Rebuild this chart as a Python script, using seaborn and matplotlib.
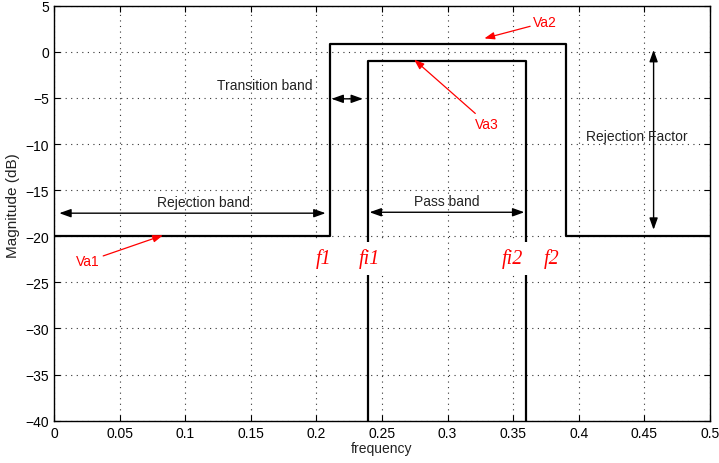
import matplotlib
matplotlib.use("Agg")
import matplotlib.pyplot as plt
import seaborn as sns
import pandas as pd

# Filter templates (step responses)
outer_freq = [0.0, 0.21, 0.21, 0.39, 0.39, 0.5]
outer_mag = [-20, -20, 0.8, 0.8, -20, -20]
inner_freq = [0.239, 0.239, 0.36, 0.36]
inner_mag = [-40, -1, -1, -40]

xticks = [0, 0.05, 0.1, 0.15, 0.2, 0.25, 0.3, 0.35, 0.4, 0.45, 0.5]
xticklabels = ["0", "0.05", "0.1", "0.15", "0.2", "0.25", "0.3", "0.35", "0.4", "0.45", "0.5"]
yticks = [5, 0, -5, -10, -15, -20, -25, -30, -35, -40]

sns.set_style("ticks")
plt.rcParams['font.family'] = ['Liberation Sans', 'DejaVu Sans']
plt.rcParams['axes.unicode_minus'] = True

fig = plt.figure(figsize=(7.19, 4.64), dpi=100)
ax = fig.add_axes([0.0751, 0.0912, 0.9124, 0.8944])

df_outer = pd.DataFrame({"frequency": outer_freq, "mag": outer_mag})
df_inner = pd.DataFrame({"frequency": inner_freq, "mag": inner_mag})
sns.lineplot(data=df_outer, x="frequency", y="mag", sort=False, estimator=None, color="black", lw=1.6, ax=ax)
sns.lineplot(data=df_inner, x="frequency", y="mag", sort=False, estimator=None, color="black", lw=1.6, ax=ax)

ax.set_xlim(0, 0.5)
ax.set_ylim(-40, 5)
ax.set_xticks(xticks)
ax.set_xticklabels(xticklabels)
ax.set_yticks(yticks)
ax.grid(True, linestyle=(0, (1, 4)), color="#333333", linewidth=0.8)
ax.tick_params(direction="in", length=4, labelsize=10, colors="black", top=True, right=True)
for s in ax.spines.values():
    s.set_visible(True)
    s.set_linewidth(1.0)
    s.set_color("black")
ax.set_xlabel("frequency", fontsize=10, labelpad=1, color="#222222")
ax.set_ylabel("Magnitude (dB)", fontsize=11, color="#222222")
ax.yaxis.set_label_coords(-0.052, 0.52)

arr = dict(arrowstyle="<|-|>,head_length=0.7,head_width=0.25", color="black", lw=1.0, shrinkA=0, shrinkB=0)
# Rejection band
ax.annotate("", xy=(0.004, -17.5), xytext=(0.207, -17.5), arrowprops=arr)
ax.text(0.114, -16.3, "Rejection band", ha="center", va="center", fontsize=10, color="#222222")
# Transition band
ax.annotate("", xy=(0.2115, -5.1), xytext=(0.2355, -5.1), arrowprops=arr)
ax.text(0.197, -3.6, "Transition band", ha="right", va="center", fontsize=10, color="#222222")
# Pass band
ax.annotate("", xy=(0.2405, -17.4), xytext=(0.3585, -17.4), arrowprops=arr)
ax.text(0.2995, -16.2, "Pass band", ha="center", va="center", fontsize=10, color="#222222")
# Rejection factor
ax.annotate("", xy=(0.457, 0.2), xytext=(0.457, -19.3), arrowprops=arr)
ax.text(0.444, -9.1, "Rejection Factor", ha="center", va="center", fontsize=10, color="#222222")

red = dict(arrowstyle="-|>,head_length=0.6,head_width=0.22", color="red", lw=0.9, shrinkA=0, shrinkB=0)
ax.annotate("Va2", xy=(0.328, 1.45), xytext=(0.3745, 3.2), ha="center", va="center",
            fontsize=10, color="red", arrowprops=red)
ax.annotate("Va3", xy=(0.2745, -0.85), xytext=(0.330, -7.8), ha="center", va="center",
            fontsize=10, color="red", arrowprops=red)
ax.annotate("Va1", xy=(0.083, -19.9), xytext=(0.026, -22.7), ha="center", va="center",
            fontsize=10, color="red", arrowprops=red)

bbox = dict(facecolor="white", edgecolor="none", pad=5)
for lab, xf in [("f1", 0.2055), ("fi1", 0.2405), ("fi2", 0.3495), ("f2", 0.3795)]:
    ax.text(xf, -22.4, lab, ha="center", va="center", fontsize=14.5, color="red",
            family="Liberation Serif", style="italic", bbox=bbox, zorder=5)

fig.savefig("out.png", dpi=100)
